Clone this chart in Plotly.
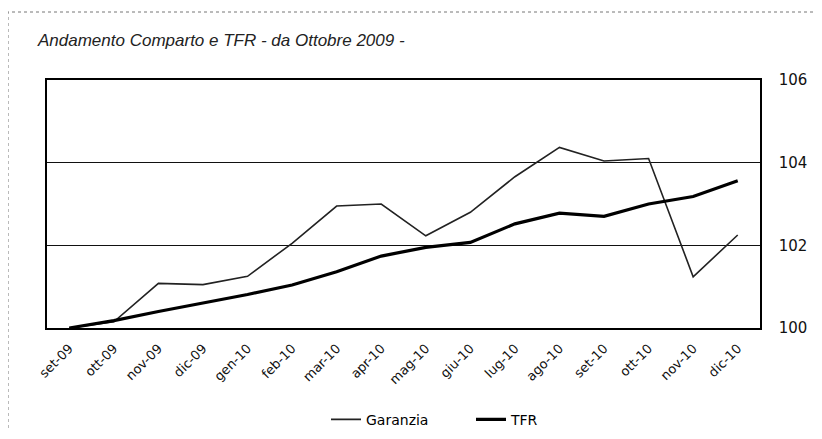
import plotly.graph_objects as go

months = ["set-09", "ott-09", "nov-09", "dic-09", "gen-10", "feb-10", "mar-10", "apr-10",
          "mag-10", "giu-10", "lug-10", "ago-10", "set-10", "ott-10", "nov-10", "dic-10"]
garanzia = [100.0, 100.15, 101.08, 101.05, 101.25, 102.05, 102.95, 103.0,
            102.23, 102.8, 103.66, 104.37, 104.04, 104.1, 101.24, 102.25]
tfr = [100.0, 100.18, 100.4, 100.6, 100.81, 101.04, 101.36, 101.74,
       101.95, 102.07, 102.52, 102.78, 102.7, 103.0, 103.18, 103.56]
yticks = [100, 102, 104, 106]

# page body has an 8px margin, so the figure is sized/offset to compensate
W, H = 806, 423

fig = go.Figure()
fig.add_trace(go.Scatter(x=months, y=garanzia, mode="lines", name="Garanzia",
                         line=dict(color="#222222", width=1.6)))
fig.add_trace(go.Scatter(x=months, y=tfr, mode="lines", name="TFR",
                         line=dict(color="#000000", width=3.2)))

fig.update_layout(
    width=W, height=H,
    margin=dict(l=39, r=54, t=72, b=103, autoexpand=False),
    paper_bgcolor="white", plot_bgcolor="white",
    title=dict(text="<i>Andamento Comparto e TFR - da Ottobre 2009 -</i>",
               x=30/W, xanchor="left", xref="container",
               y=1-32/H, yanchor="middle", yref="container",
               font=dict(family="Liberation Sans", size=17, color="#222222")),
    showlegend=True,
    legend=dict(orientation="h", x=(326-47)/713, xanchor="left", y=-0.37, yanchor="middle",
                font=dict(family="DejaVu Sans", size=14, color="#000000"),
                entrywidth=100, entrywidthmode="pixels",
                bgcolor="rgba(0,0,0,0)"),
    xaxis=dict(type="category", range=[-0.5, 15.5], tickangle=-45, automargin=False,
               showgrid=False, showline=True, linecolor="#000000", linewidth=1.5,
               mirror=True, ticks="outside", ticklen=6, tickcolor="rgba(0,0,0,0)",
               tickfont=dict(family="DejaVu Sans", size=13, color="#111111")),
    yaxis=dict(side="right", range=[100, 106], tickvals=yticks, automargin=False,
               showgrid=True, gridcolor="#111111", gridwidth=1,
               showline=True, linecolor="#000000", linewidth=1.5, mirror=True,
               ticks="", zeroline=False, ticklabelstandoff=14,
               tickfont=dict(family="DejaVu Sans", size=15, color="#111111")),
)

fig.add_shape(type="rect", xref="paper", yref="paper",
              x0=(8-47)/713, x1=(830-47)/713, y0=(328-445)/248, y1=(328-12)/248,
              line=dict(color="#777777", width=1, dash="dot"), layer="below")

fig.write_html("out.html")
